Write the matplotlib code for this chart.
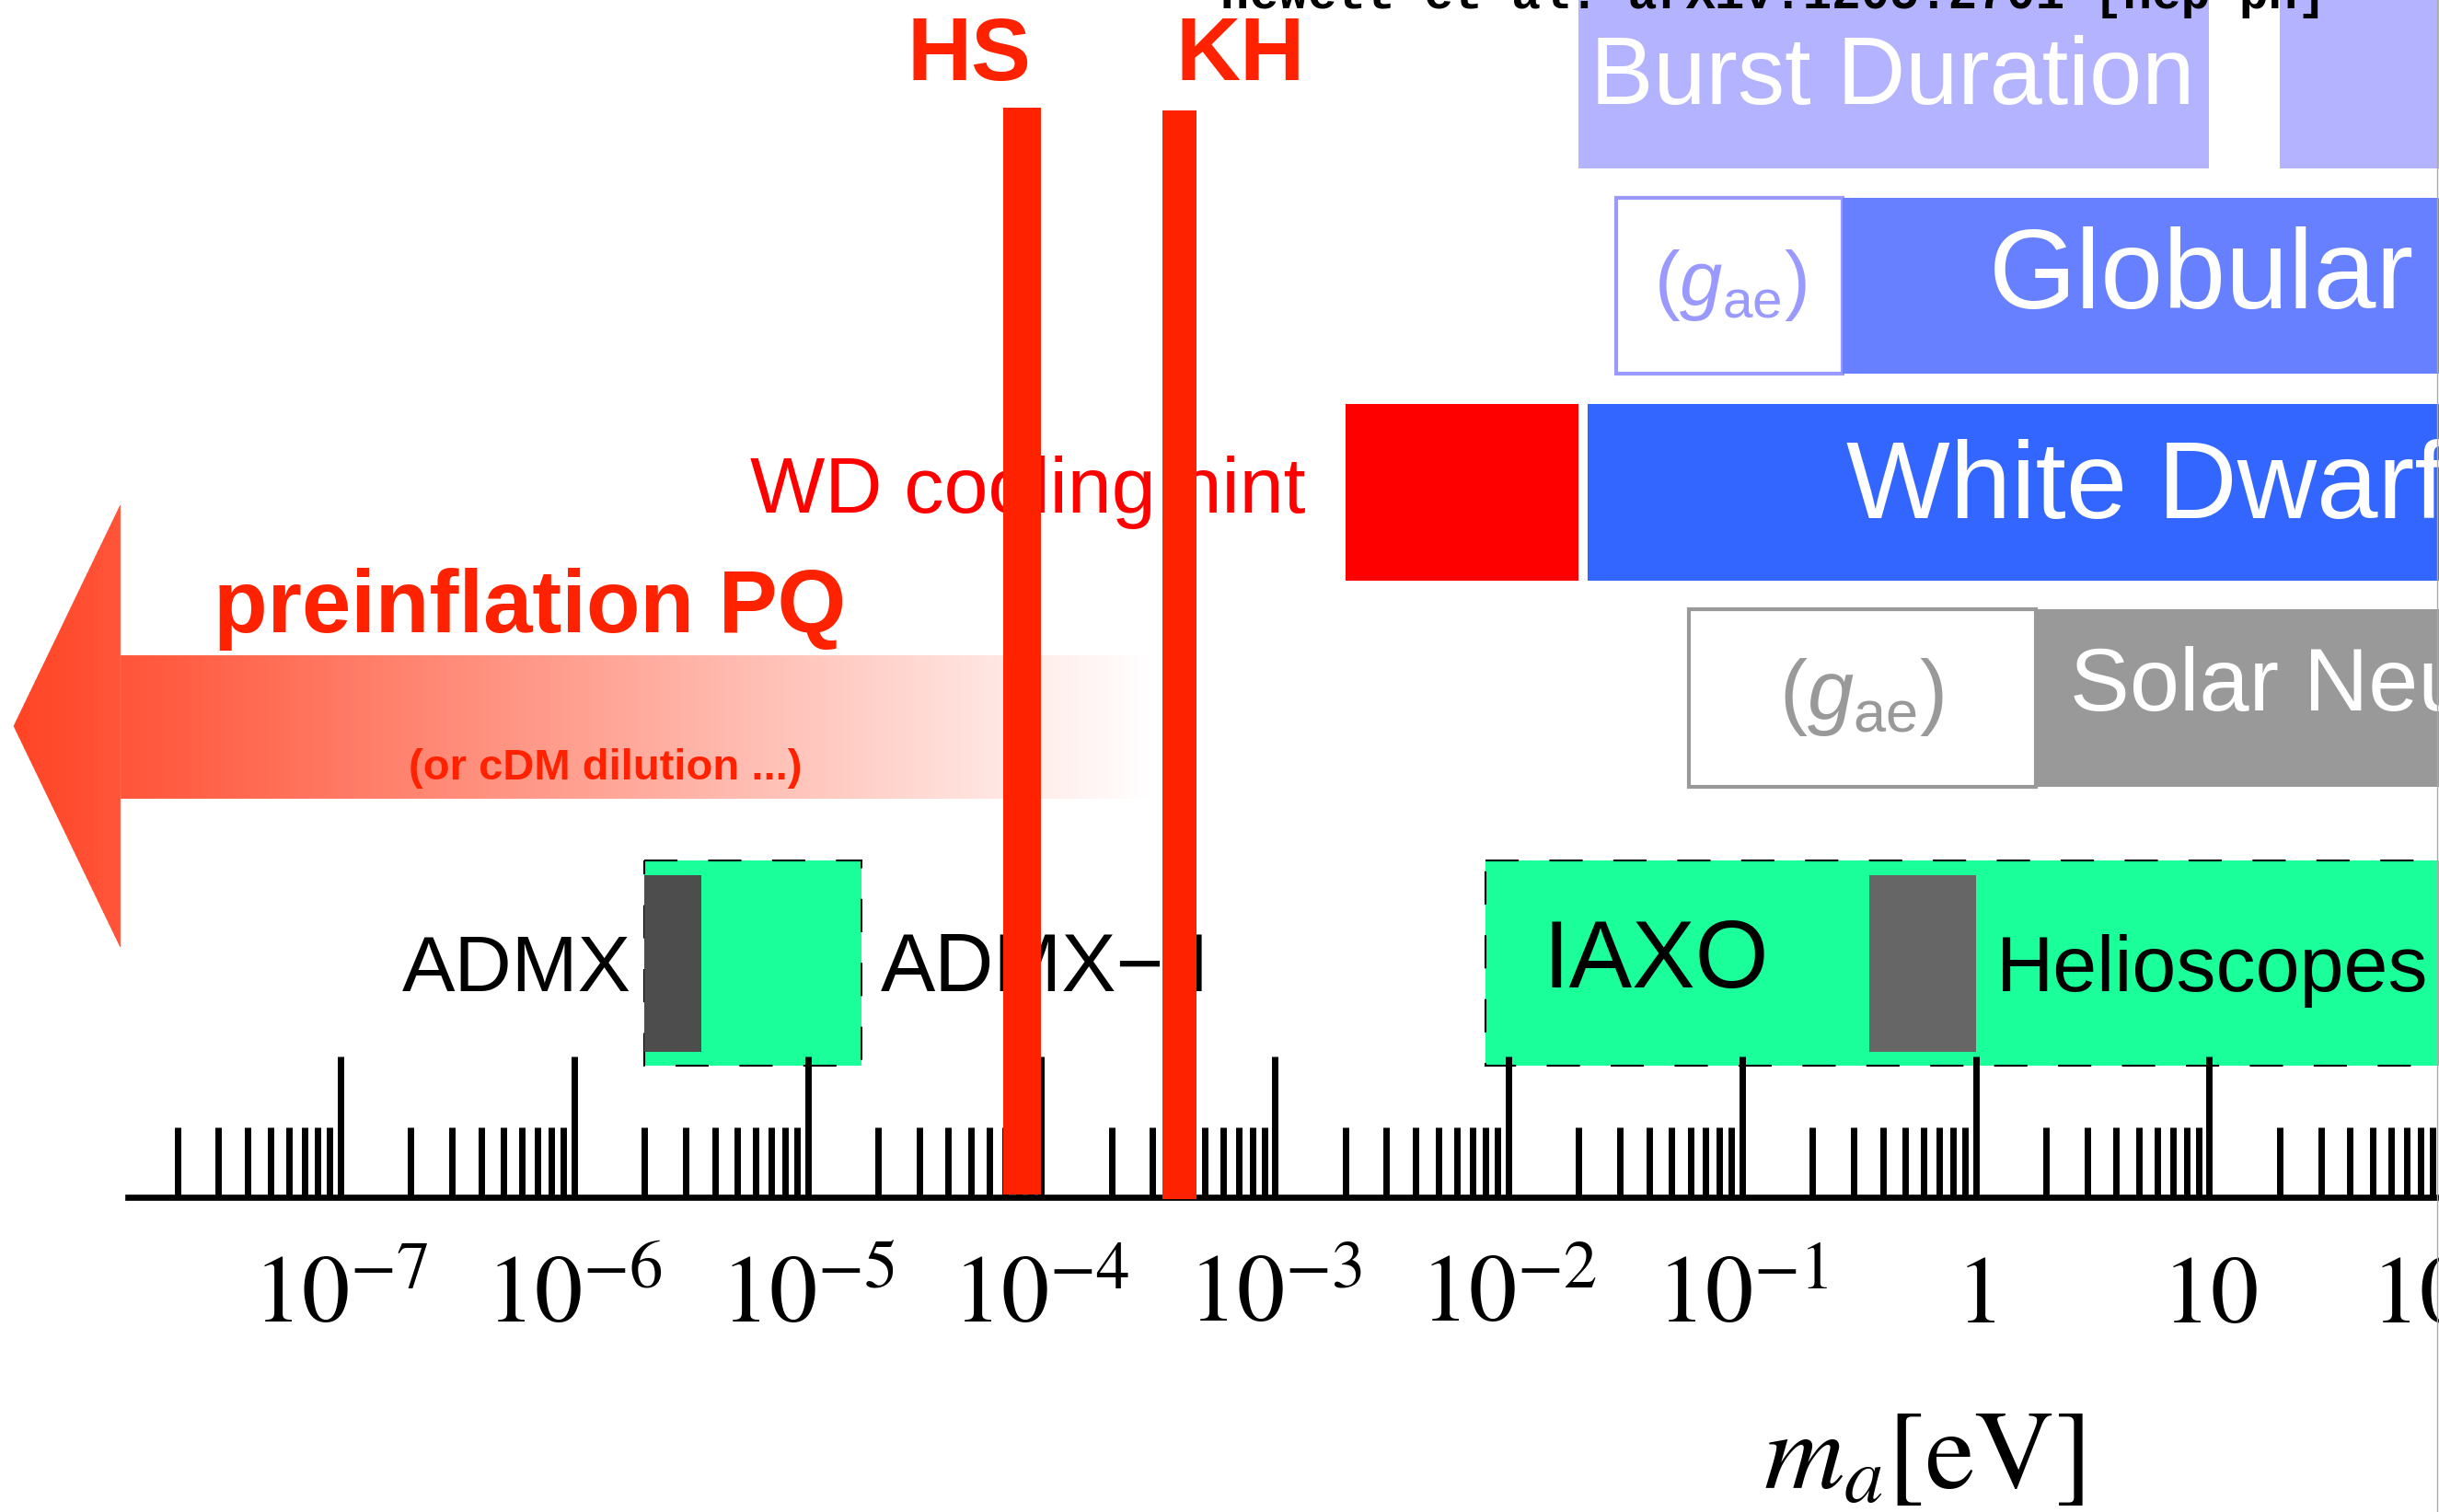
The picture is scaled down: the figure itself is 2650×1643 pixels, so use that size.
import matplotlib
matplotlib.use("Agg")
import matplotlib.pyplot as plt
import numpy as np
from matplotlib.collections import PolyCollection
from matplotlib.lines import Line2D
from matplotlib.ticker import FixedLocator, FixedFormatter, LogLocator, NullFormatter

plt.rcParams['font.family'] = ['Liberation Sans', 'DejaVu Sans']
plt.rcParams['mathtext.fontset'] = 'stix'
plt.rcParams['mathtext.rm'] = 'Liberation Sans'
plt.rcParams['mathtext.it'] = 'Liberation Sans:italic'
plt.rcParams['lines.scale_dashes'] = False

# axion mass ranges [eV]
hs_band = (6.9e-5, 1.0e-4)
kh_band = (3.3e-4, 4.6e-4)
burst = [(0.02, 10.0), (20.0, 1e3)]
globular_gae = (0.029, 0.27)
globular = (0.27, 1e3)
wd_hint = (2.0e-3, 0.02)
white_dwarf = (0.0218, 1e3)
solar_gae = (0.059, 1.81)
solar = (1.81, 1e3)
admx_reach = (2.0e-6, 1.7e-5)
admx_done = (2.0e-6, 3.5e-6)
iaxo_reach = (8.0e-3, 1e3)
helio_done = (0.35, 1.0)
preinflation = (4.0e-9, 1.14e-8, 2.9e-4)   # tip, head back, fade end

tick_vals = [1e-7, 1e-6, 1e-5, 1e-4, 1e-3, 1e-2, 1e-1, 1, 10, 100]
tick_labels = [r'$10^{-7}$', r'$10^{-6}$', r'$10^{-5}$', r'$10^{-4}$', r'$10^{-3}$',
               r'$10^{-2}$', r'$10^{-1}$', r'$1$', r'$10$', r'$100$']

# row layout, in pixel rows from the top
row_burst = (-10, 183)
row_glob = (215, 406)
row_wd = (439, 631)
row_solar = (662, 855)
row_scope = (935, 1158)
row_scope_in = (951, 1143)
axis_row = 1301

W, H = 2650, 1643
fig = plt.figure(figsize=(W / 100, H / 100), dpi=100)
ax = fig.add_axes([139.5 / W, (H - axis_row) / H, (2660 - 139.5) / W, axis_row / H])
ax.set_xscale('log')


def box(rng, rows, **kw):
    lo, hi = rng
    y0, y1 = rows
    ax.barh((y0 + y1) / 2, hi - lo, left=lo, height=y1 - y0, **kw)


# astrophysics bounds
for b in burst:
    box(b, row_burst, color='#B3B3FF', zorder=1)
box(globular_gae, row_glob, facecolor='white', edgecolor='#9999FF', linewidth=3, zorder=1)
box(globular, row_glob, color='#6680FF', zorder=1)
box(wd_hint, row_wd, color='#FF0000', zorder=1)
box(white_dwarf, row_wd, color='#3366FF', zorder=1)
box(solar_gae, row_solar, facecolor='white', edgecolor='#999999', linewidth=3, zorder=1)
box(solar, row_solar, color='#999999', zorder=1)

# haloscopes / helioscopes
dash = (0, (26, 24))
box(admx_reach, row_scope, facecolor='#1AFF99', edgecolor='black', linewidth=1.5,
    linestyle=dash, zorder=1)
box(admx_done, row_scope_in, color='#4D4D4D', zorder=1.2)
box(iaxo_reach, row_scope, facecolor='#1AFF99', edgecolor='black', linewidth=1.5,
    linestyle=dash, zorder=1)
box(helio_done, row_scope_in, color='#666666', zorder=1.2)

# HS / KH bands
box(hs_band, (117, 1298), color='#FF2200', zorder=4, clip_on=False)
box(kh_band, (120, 1303), color='#FF2200', zorder=4, clip_on=False)

# preinflation arrow, fading to white
u_tip, u_back, u_end = np.log10(preinflation)
u = np.concatenate([np.linspace(u_tip, u_back, 40), np.linspace(u_back, u_end, 400)[1:]])
yc, head_half, shaft_half = 789, 239.5, 77.5
base = np.array([1.0, 0.26, 0.14])
polys, cols = [], []
for a, b in zip(u[:-1], u[1:]):
    if b <= u_back + 1e-12:
        h0 = head_half * (a - u_tip) / (u_back - u_tip)
        h1 = head_half * (b - u_tip) / (u_back - u_tip)
    else:
        h0 = h1 = shaft_half
    polys.append([(10 ** a, yc - h0), (10 ** b, yc - h1), (10 ** b, yc + h1), (10 ** a, yc + h0)])
    t = ((a + b) / 2 - u_tip) / (u_end - u_tip)
    cols.append(base * (1 - t) + t)
pc = PolyCollection(polys, facecolors=cols, edgecolors=cols, linewidths=0.6,
                    clip_on=False, zorder=1)
ax.add_collection(pc, autolim=False)

# labels
ax.text(4.9e-5, 87, 'HS', fontsize=70, fontweight='bold', color='#FF2200', ha='center', va='baseline')
ax.text(7.1e-4, 87, 'KH', fontsize=70, fontweight='bold', color='#FF2200', ha='center', va='baseline')
ax.text(5.85e-4, 9, 'Hewett et al. arXiv:1205.2701 [hep-ph]', fontsize=38, fontweight='bold',
        family='Liberation Mono', color='black', ha='left', va='baseline')
ax.text(0.0224, 113, 'Burst Duration', fontsize=74, color='white', va='baseline', zorder=3)
ax.text(1.14, 335, 'Globular', fontsize=88, color='white', va='baseline', zorder=3)
ax.text(0.089, 310, r'$(g_{\mathrm{ae}})$', fontsize=60, color='#9999FF', ha='center',
        va='center', math_fontfamily='custom', zorder=3)
ax.text(0.279, 563, 'White Dwarf', fontsize=86, color='white', va='baseline', zorder=3)
ax.text(1.35e-3, 557, 'WD cooling hint', fontsize=62, color='#FF0000', ha='right',
        va='baseline', zorder=3)
ax.text(0.326, 758, r'$(g_{\mathrm{ae}})$', fontsize=65, color='#999999', ha='center',
        va='center', math_fontfamily='custom', zorder=3)
ax.text(2.53, 772, 'Solar Neutrinos', fontsize=70, color='white', va='baseline', zorder=3)
ax.text(2.86e-8, 687, 'preinflation PQ', fontsize=69, fontweight='bold', color='#FF2200',
        va='baseline', zorder=3)
ax.text(1.96e-7, 847, '(or cDM dilution ...)', fontsize=34, fontweight='bold', color='#FF2200',
        va='baseline', zorder=3)
ax.text(1.76e-6, 1077, 'ADMX', fontsize=62, ha='right', va='baseline', zorder=3)
ax.text(2.06e-5, 1077, 'ADMX\u2212II', fontsize=64, va='baseline', zorder=3)
ax.text(0.014, 1073, 'IAXO', fontsize=74, va='baseline', zorder=3)
ax.text(1.22, 1077, 'Helioscopes', fontsize=62, va='baseline', zorder=3)
ax.text(0.6, 1617, r'$m_a[\mathrm{eV}]$', fontsize=87, ha='center', va='baseline')

# axis
ax.set_xlim(10 ** -7.908, 10 ** 2.0227)
ax.set_ylim(axis_row, 0)
ax.xaxis.set_major_locator(FixedLocator(tick_vals))
ax.xaxis.set_major_formatter(FixedFormatter(tick_labels))
ax.xaxis.set_minor_locator(LogLocator(base=10, subs=np.arange(2, 10), numticks=100))
ax.xaxis.set_minor_formatter(NullFormatter())
ax.tick_params(axis='x', which='major', direction='in', length=110, width=5, pad=44,
               labelsize=75, color='black')
ax.tick_params(axis='x', which='minor', direction='in', length=55, width=5)
ax.tick_params(axis='y', left=False, labelleft=False)
for s in ['top', 'left', 'right']:
    ax.spines[s].set_visible(False)
ax.spines['bottom'].set_linewidth(4.8)
ax.patch.set_visible(False)

fig.add_artist(Line2D([2648 / W] * 2, [0, 1], color='#aaaaaa', lw=1, transform=fig.transFigure))

fig.savefig('out.png', dpi=100)
